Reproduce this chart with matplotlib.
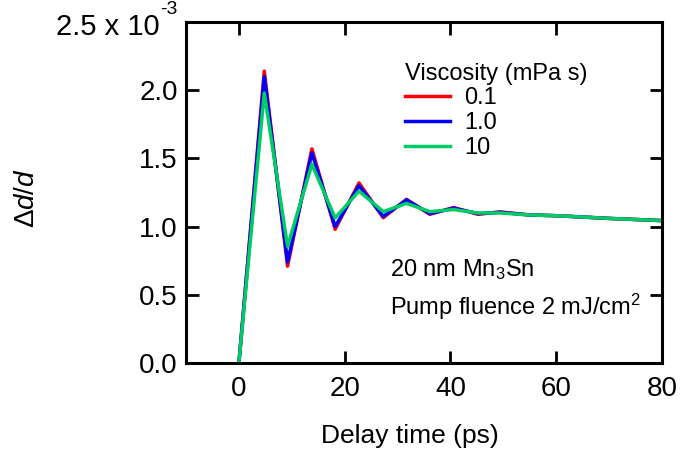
import matplotlib
matplotlib.use("Agg")
import matplotlib.pyplot as plt

plt.rcParams['font.family'] = ['Liberation Sans', 'DejaVu Sans']
plt.rcParams['mathtext.fontset'] = 'custom'
plt.rcParams['mathtext.rm'] = 'Liberation Sans'
plt.rcParams['mathtext.it'] = 'Liberation Sans:italic'

# Delay time (ps)
t = [0, 4.8, 9.2, 13.8, 18.2, 22.7, 27.3, 31.7, 36.1, 40.6, 45.2, 49.4, 55, 60, 70, 80]
# Δd/d (x 1e-3)
v01 = [0.0, 2.14, 0.71, 1.57, 0.98, 1.32, 1.065, 1.20, 1.09, 1.14, 1.09, 1.108, 1.085, 1.08, 1.06, 1.044]
v10 = [0.0, 2.10, 0.74, 1.54, 1.00, 1.30, 1.075, 1.195, 1.095, 1.135, 1.095, 1.105, 1.085, 1.08, 1.06, 1.044]
v100 = [0.0, 1.98, 0.855, 1.456, 1.064, 1.26, 1.11, 1.17, 1.11, 1.125, 1.10, 1.10, 1.085, 1.08, 1.06, 1.044]
labels = ['0.1', '1.0', '10']
colors = ['#ff0000', '#0000ff', '#00cc66']

yticks = [0.0, 0.5, 1.0, 1.5, 2.0, 2.5]
yticklabels = ['0.0', '0.5', '1.0', '1.5', '2.0', '']
xticks = [0, 20, 40, 60, 80]

fig = plt.figure(figsize=(6.8, 4.58), dpi=100)
ax = fig.add_axes([186/680, 1-363/458, (662-186)/680, (363-22)/458])

for y, lab, c in zip([v01, v10, v100], labels, colors):
    ax.plot(t, y, color=c, lw=2.5, label=lab, solid_joinstyle='round')

ax.set_xlim(-10, 80)
ax.set_ylim(0, 2.5)
ax.set_xticks(xticks)
ax.set_yticks(yticks)
ax.set_yticklabels(yticklabels)
ax.tick_params(direction='in', length=9, width=2, labelsize=20, top=True, right=True)
ax.tick_params(axis='y', pad=6)
ax.tick_params(axis='x', pad=9)
for s in ax.spines.values():
    s.set_linewidth(2.2)

# scale multiplier label at the top of the y axis
fig.text(160/680, 1-27/458, '2.5 x 10', fontsize=21, ha='right', va='center')
fig.text(160/680, 1-10/458, '-3', fontsize=14, ha='left', va='center')

ax.set_xlabel('Delay time (ps)', fontsize=19, va='center')
ax.xaxis.set_label_coords(0.4706, -0.214)
ax.set_ylabel(r'$\Delta$$\it{d}$/$\it{d}$', fontsize=20, va='center')
ax.yaxis.set_label_coords(-0.333, 0.485)

leg = ax.legend(title='Viscosity (mPa s)', loc='upper left', bbox_to_anchor=(0.45, 0.895),
                frameon=False, fontsize=17, title_fontsize=17, handlelength=1.9,
                handletextpad=0.6, labelspacing=0.12, borderpad=0.2, borderaxespad=0)
leg._legend_box.align = 'left'

ax.text(0.4286, 0.273, r'20 nm Mn$_3$Sn', transform=ax.transAxes, fontsize=17, va='center')
ax.text(0.4286, 0.165, r'Pump fluence 2 mJ/cm$^2$', transform=ax.transAxes, fontsize=17, va='center')

fig.savefig('out.png', dpi=100)
